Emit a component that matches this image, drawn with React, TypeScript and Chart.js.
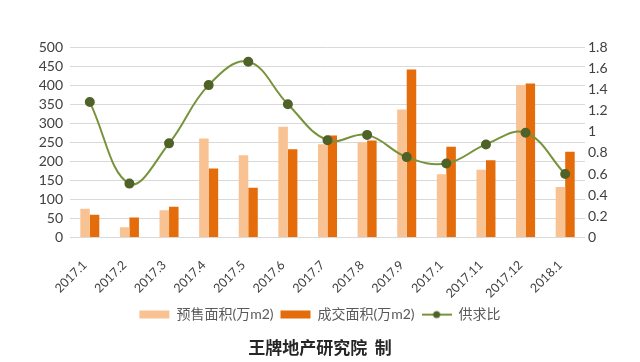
import React, { useEffect, useRef } from "react";
import { Chart, registerables } from "chart.js";

Chart.register(...registerables);

const categories = [
  "2017.1", "2017.2", "2017.3", "2017.4", "2017.5", "2017.6", "2017.7",
  "2017.8", "2017.9", "2017.1", "2017.11", "2017.12", "2018.1",
];
const presaleArea = [76, 27, 72, 260, 216, 291, 245, 250, 336, 166, 178, 400, 133];
const dealArea = [60, 53, 81, 181, 131, 232, 268, 255, 441, 238, 203, 404, 225];
const supplyDemandRatio = [1.28, 0.51, 0.89, 1.44, 1.66, 1.26, 0.92, 0.97, 0.76, 0.7, 0.88, 0.99, 0.6];
const seriesNames = ["预售面积(万m2)", "成交面积(万m2)", "供求比"];
const footerText = "王牌地产研究院  制";

const LIGHT = "#F9C292";
const DARK = "#E46C0A";
const LINE = "#77933C";
const POINT = "#4F6228";

export default function App() {
  const ref = useRef<HTMLCanvasElement | null>(null);

  useEffect(() => {
    if (!ref.current) return;
    const icon = document.createElement("canvas");
    icon.width = 30;
    icon.height = 10;
    const ic = icon.getContext("2d");
    if (ic) {
      ic.strokeStyle = LINE;
      ic.lineWidth = 2;
      ic.beginPath();
      ic.moveTo(0, 5);
      ic.lineTo(30, 5);
      ic.stroke();
      ic.fillStyle = POINT;
      ic.beginPath();
      ic.arc(15, 5, 3.5, 0, Math.PI * 2);
      ic.fill();
    }

    const family = "Lato, 'Noto Sans CJK SC', sans-serif";
    const chart = new Chart(ref.current, {
      type: "bar",
      data: {
        labels: categories,
        datasets: [
          {
            type: "line",
            label: seriesNames[2],
            data: supplyDemandRatio,
            yAxisID: "y1",
            borderColor: LINE,
            backgroundColor: POINT,
            borderWidth: 2,
            pointRadius: 4,
            pointBackgroundColor: POINT,
            pointBorderColor: POINT,
            tension: 0.4,
          } as any,
          {
            label: seriesNames[0],
            data: presaleArea,
            backgroundColor: LIGHT,
            borderWidth: 0,
            yAxisID: "y",
          },
          {
            label: seriesNames[1],
            data: dealArea,
            backgroundColor: DARK,
            borderWidth: 0,
            yAxisID: "y",
          },
        ],
      },
      options: {
        animation: false,
        responsive: false,
        layout: { padding: { top: 47, left: 0, right: 0, bottom: 0 } },
        datasets: {
          bar: { barPercentage: 1, categoryPercentage: 0.48 },
        },
        scales: {
          x: {
            grid: { display: false, drawTicks: false },
            border: { display: false },
            ticks: {
              color: "#404040",
              font: { family, size: 12.5 },
              maxRotation: 45,
              minRotation: 45,
              padding: 20,
              labelOffset: -5,
            },
            afterFit: (s: any) => {
              s.height = 63;
            },
          },
          y: {
            position: "left",
            min: 0,
            max: 500,
            grid: { color: "#D9D9D9", lineWidth: 1, drawTicks: false },
            border: { display: false },
            ticks: {
              stepSize: 50,
              autoSkip: false,
              color: "#404040",
              font: { family, size: 14 },
              padding: 7,
            },
            afterFit: (s: any) => {
              s.width = 70;
            },
          },
          y1: {
            position: "right",
            min: 0,
            max: 1.8,
            grid: { drawOnChartArea: false, drawTicks: false },
            border: { display: false },
            ticks: {
              stepSize: 0.2,
              autoSkip: false,
              color: "#404040",
              font: { family, size: 14 },
              padding: 3,
              callback: (v: any) => String(Math.round(Number(v) * 10) / 10),
            },
            afterFit: (s: any) => {
              s.width = 55;
            },
          },
        },
        plugins: {
          tooltip: { enabled: false },
          legend: {
            position: "bottom",
            labels: {
              usePointStyle: true,
              pointStyleWidth: 30,
              boxHeight: 8,
              padding: 7,
              color: "#595959",
              font: { family, size: 14 },
              generateLabels: (c: any) => {
                const items = (Chart.defaults.plugins.legend.labels as any).generateLabels(c);
                items.sort((a: any, b: any) => {
                  const oa = a.datasetIndex === 0 ? 99 : a.datasetIndex;
                  const ob = b.datasetIndex === 0 ? 99 : b.datasetIndex;
                  return oa - ob;
                });
                items.forEach((it: any) => {
                  if (it.datasetIndex === 0) {
                    it.pointStyle = icon;
                  } else {
                    it.pointStyle = "rect";
                    it.lineWidth = 0;
                  }
                });
                return items;
              },
            },
          },
          title: {
            display: true,
            position: "bottom",
            text: footerText,
            color: "#262626",
            font: { family: "'Noto Sans CJK SC', sans-serif", size: 17, weight: "bold" },
            padding: { top: 6, bottom: 4 },
          },
        },
      },
    });
    return () => chart.destroy();
  }, []);

  return (
    <div style={{ position: "fixed", left: 0, top: 0, width: 640, height: 362, background: "#fff" }}>
      <canvas ref={ref} width={640} height={362} style={{ display: "block" }} />
    </div>
  );
}
